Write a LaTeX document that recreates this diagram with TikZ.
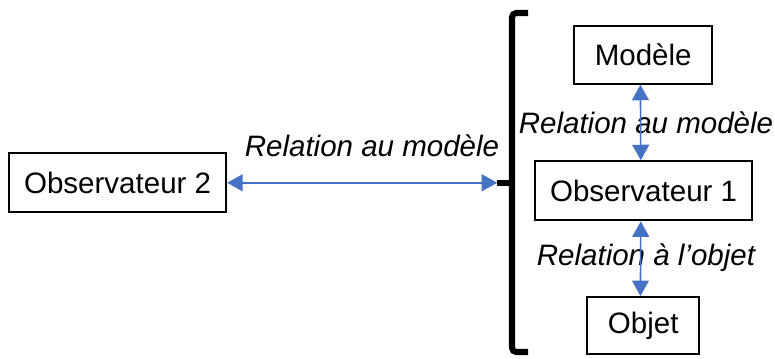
\documentclass[tikz,border=0pt]{standalone}
\usepackage{fontspec}
\setmainfont{Liberation Sans}
\usetikzlibrary{arrows.meta}
\definecolor{relblue}{RGB}{68,114,196}
\tikzstyle{box}=[fill=white, draw=black, shape=rectangle, line width=1.4pt, inner sep=0pt]
\tikzstyle{rel}=[draw=relblue, line width=1.1pt, {Triangle[width=12pt,length=11pt]}-{Triangle[width=12pt,length=11pt]}, color=relblue]
\tikzstyle{lbl}=[font=\fontsize{21}{25}\selectfont\itshape, inner sep=0pt]

\begin{document}
\begin{tikzpicture}[font=\fontsize{21}{25}\selectfont]
		\useasboundingbox (0, 0) rectangle (19.375, 8.95);

		\node [style=box, minimum width=5.43cm, minimum height=1.48cm] (obs2) at (2.94, 4.38) {Observateur 2};
		\node [style=box, minimum width=3.45cm, minimum height=1.45cm] (modele) at (16.08, 7.58) {Modèle};
		\node [style=box, minimum width=5.43cm, minimum height=1.48cm] (obs1) at (16.09, 4.18) {Observateur 1};
		\node [style=box, minimum width=2.8cm, minimum height=1.43cm] (objet) at (16.08, 0.81) {Objet};

		\node [style=lbl] (lbl1) at (9.3, 5.3) {Relation au modèle};
		\node [style=lbl] (lbl2) at (16.15, 5.88) {Relation au modèle};
		\node [style=lbl] (lbl3) at (16.15, 2.5) {Relation à l’objet};

		\coordinate (brace) at (12.43, 4.38);
		\draw [line width=4.3pt, rounded corners=3pt] (13.2, 8.625) -- (12.8, 8.625) -- (12.8, 0.15) -- (13.2, 0.15);
		\draw [line width=4.3pt] (brace) -- (12.8, 4.38);

		\draw [style=rel] (obs2) to (brace);
		\draw [style=rel] ([xshift=-2pt]modele.south) to ([xshift=-2pt]obs1.north);
		\draw [style=rel] ([xshift=-2pt]obs1.south) to ([xshift=-2pt]objet.north);
	\end{tikzpicture}
\end{document}
